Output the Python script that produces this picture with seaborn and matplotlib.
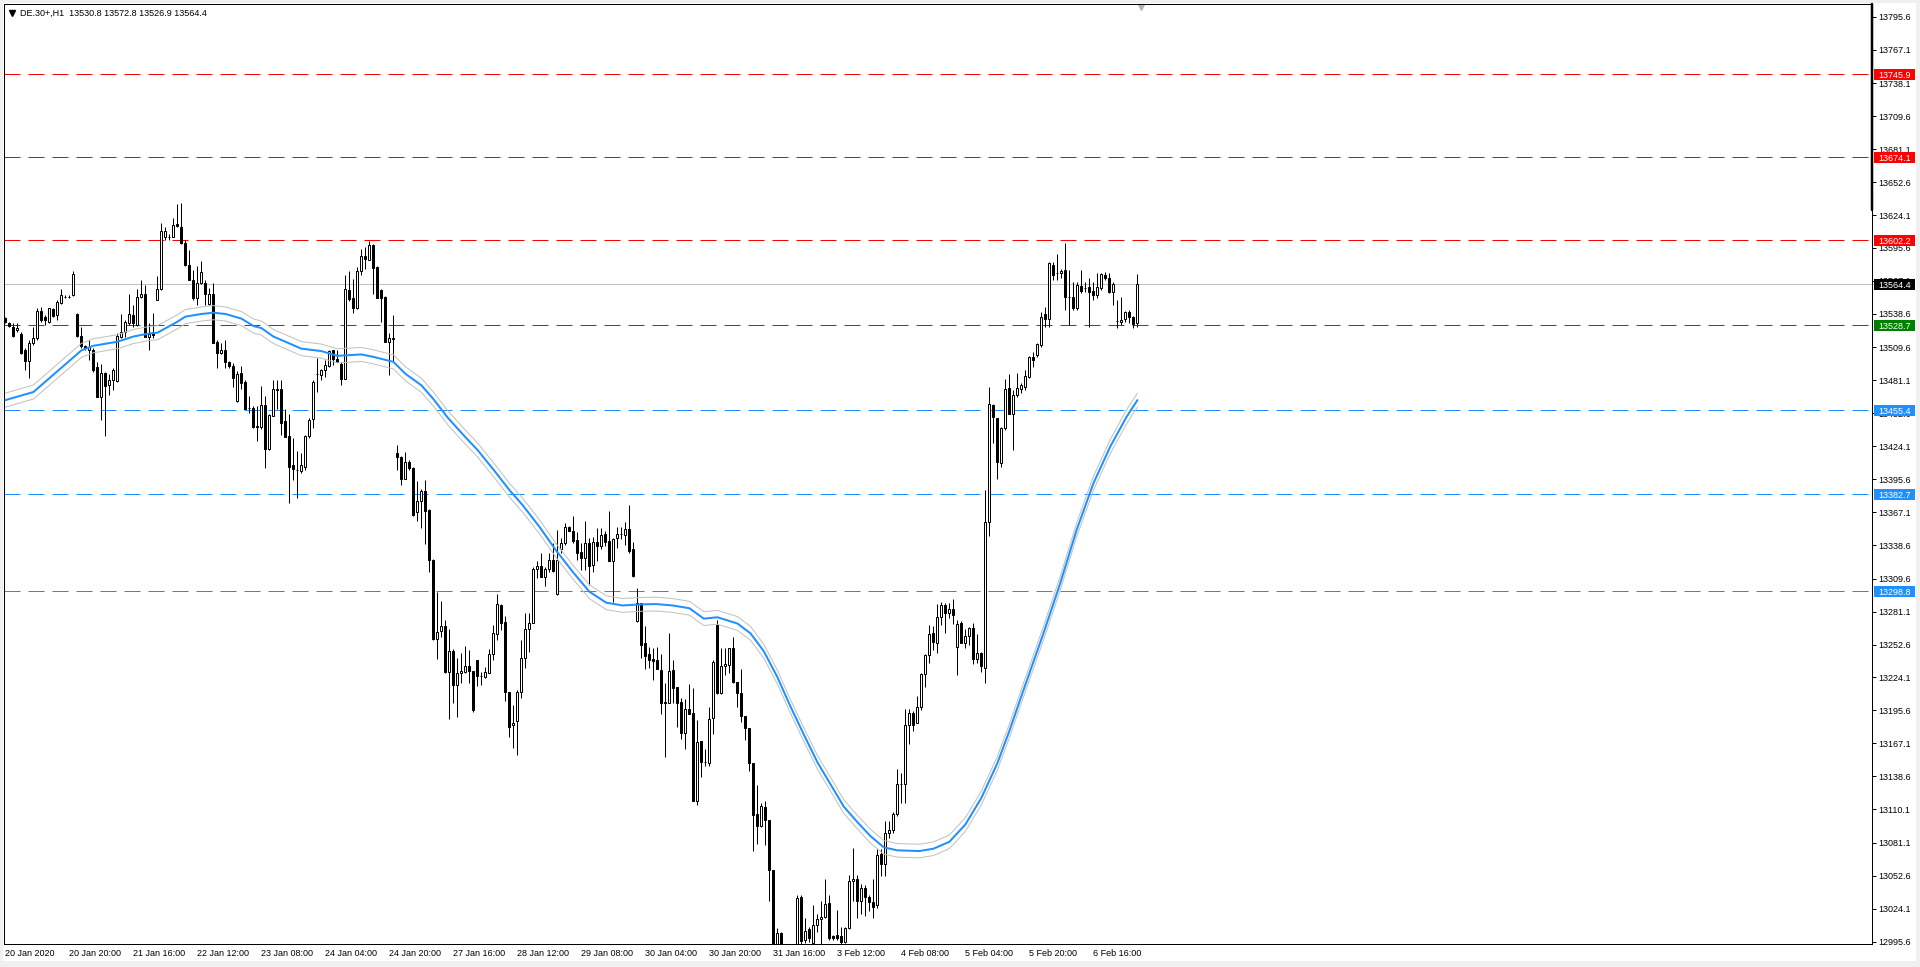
import numpy as np
import pandas as pd
import matplotlib
matplotlib.use("Agg")
from matplotlib import pyplot as plt
from matplotlib.patches import Rectangle
from matplotlib.transforms import blended_transform_factory
import seaborn as sns

# DE.30+ H1 candles (20 Jan - 6 Feb 2020)
title = "DE.30+,H1  13530.8 13572.8 13526.9 13564.4"

o = [
    13534.6, 13530.9, 13527.4, 13524.5, 13521.6, 13507.2, 13498.0, 13513.6, 13517.3, 13541.2,
    13536.0, 13531.7, 13542.4, 13537.5, 13547.6, 13553.3, 13553.6, 13554.8, 13538.4, 13519.3,
    13510.7, 13507.2, 13507.2, 13492.8, 13466.9, 13487.6, 13477.0, 13481.3, 13480.7, 13518.7,
    13523.1, 13530.9, 13537.5, 13528.8, 13552.8, 13555.7, 13518.7, 13523.1, 13551.0, 13559.7,
    13604.7, 13604.7, 13605.2, 13616.2, 13613.3, 13599.5, 13580.7, 13568.3, 13551.9, 13565.5,
    13565.5, 13547.0, 13556.2, 13514.4, 13504.9, 13507.2, 13497.1, 13493.4, 13463.4, 13487.7,
    13479.5, 13457.0, 13457.6, 13441.5, 13440.9, 13459.6, 13421.6, 13450.3, 13473.7, 13473.7,
    13445.9, 13432.7, 13407.9, 13403.5, 13402.9, 13406.4, 13432.7, 13447.4, 13486.8, 13485.9,
    13489.8, 13493.6, 13507.3, 13499.4, 13495.6, 13482.4, 13559.1, 13552.6, 13543.3, 13576.0,
    13588.6, 13585.4, 13597.9, 13578.9, 13559.1, 13553.2, 13514.6, 13517.3, 13418.1, 13415.2,
    13396.2, 13410.2, 13405.0, 13366.9, 13376.6, 13385.4, 13369.0, 13326.0, 13257.3, 13264.6,
    13269.0, 13228.6, 13247.1, 13217.8, 13228.1, 13229.1, 13234.0, 13229.7, 13239.2, 13225.6,
    13224.8, 13228.2, 13244.1, 13261.4, 13286.7, 13271.7, 13211.2, 13182.7, 13186.4, 13211.2,
    13240.6, 13266.0, 13271.5, 13317.6, 13320.8, 13311.2, 13317.6, 13325.7, 13296.2, 13334.9,
    13340.1, 13353.9, 13350.7, 13342.9, 13332.9, 13327.1, 13340.7, 13321.3, 13341.5, 13337.8,
    13348.1, 13342.1, 13325.1, 13344.4, 13348.1, 13347.3, 13352.5, 13334.9, 13273.2, 13288.2,
    13253.6, 13244.4, 13239.8, 13239.2, 13230.5, 13203.0, 13201.7, 13230.5, 13216.1, 13202.5,
    13176.3, 13196.5, 13193.0, 13117.2, 13169.0, 13150.8, 13150.2, 13189.2, 13269.8, 13211.0,
    13234.0, 13234.6, 13250.0, 13220.6, 13211.0, 13190.8, 13180.2, 13150.2, 13106.0, 13095.8,
    13112.4, 13101.2, 13057.4, 12994.0, 13003.0, 12990.0, 12980.0, 12985.0, 12988.0, 13034.0,
    12997.2, 13006.2, 12994.6, 13010.0, 13014.8, 13017.0, 13029.2, 13000.4, 13001.0, 13000.4,
    12995.6, 13007.4, 13047.8, 13050.0, 13030.8, 13042.0, 13034.0, 13030.2, 13027.0, 13071.4,
    13062.8, 13090.0, 13092.0, 13106.0, 13131.6, 13131.6, 13182.8, 13193.0, 13184.4, 13198.8,
    13227.1, 13243.5, 13262.3, 13254.2, 13276.7, 13286.8, 13279.6, 13283.0, 13250.7, 13271.5,
    13254.2, 13260.0, 13266.6, 13239.8, 13245.5, 13232.0, 13358.8, 13459.7, 13448.2, 13409.9,
    13439.6, 13474.2, 13452.0, 13468.2, 13473.3, 13475.6, 13483.7, 13501.5, 13503.0, 13511.6,
    13538.5, 13533.8, 13580.8, 13574.2, 13573.6, 13576.5, 13553.5, 13553.5, 13543.3, 13562.7,
    13560.6, 13561.5, 13558.3, 13554.9, 13560.6, 13572.2, 13569.3, 13557.8, 13532.7, 13531.8,
    13533.8, 13540.5, 13535.6, 13530.8]

h = [
    13535.5, 13531.7, 13530.3, 13530.3, 13523.1, 13508.7, 13515.9, 13527.4, 13543.3, 13544.7,
    13537.5, 13543.8, 13543.3, 13550.5, 13560.0, 13554.8, 13554.5, 13575.5, 13539.5, 13527.4,
    13511.5, 13515.9, 13508.7, 13497.1, 13495.0, 13488.5, 13487.0, 13491.4, 13522.2, 13538.9,
    13533.2, 13556.2, 13546.1, 13559.7, 13567.8, 13563.4, 13530.9, 13539.5, 13571.2, 13617.3,
    13613.9, 13608.1, 13621.1, 13633.5, 13634.6, 13602.4, 13593.7, 13576.4, 13580.0, 13584.5,
    13567.8, 13560.6, 13564.9, 13515.9, 13513.0, 13515.9, 13498.0, 13495.7, 13488.9, 13493.3,
    13481.0, 13467.8, 13459.0, 13459.0, 13476.0, 13467.8, 13451.8, 13481.0, 13481.0, 13481.0,
    13456.1, 13451.7, 13431.3, 13419.6, 13418.1, 13434.2, 13448.8, 13481.0, 13500.0, 13491.2,
    13498.5, 13507.3, 13507.5, 13507.3, 13497.1, 13572.5, 13576.0, 13568.7, 13578.9, 13595.0,
    13596.5, 13601.7, 13599.4, 13580.4, 13559.9, 13554.1, 13521.9, 13538.0, 13425.4, 13415.8,
    13418.7, 13412.3, 13406.4, 13394.1, 13387.4, 13394.7, 13369.9, 13326.5, 13298.2, 13290.1,
    13273.4, 13266.1, 13248.5, 13241.2, 13245.6, 13251.3, 13247.8, 13230.0, 13239.2, 13229.1,
    13233.4, 13248.4, 13269.4, 13296.3, 13287.5, 13277.2, 13211.8, 13200.2, 13213.2, 13256.5,
    13279.5, 13280.1, 13319.9, 13325.1, 13331.4, 13319.9, 13332.0, 13340.1, 13351.6, 13344.4,
    13357.4, 13355.1, 13363.7, 13350.2, 13340.1, 13359.4, 13344.4, 13345.8, 13353.0, 13353.0,
    13351.0, 13368.3, 13344.4, 13353.9, 13354.5, 13358.8, 13373.2, 13341.5, 13301.2, 13288.2,
    13268.6, 13250.7, 13249.3, 13250.7, 13244.4, 13219.0, 13262.8, 13239.2, 13216.1, 13206.0,
    13205.2, 13218.4, 13214.8, 13187.6, 13169.0, 13162.0, 13198.2, 13238.8, 13274.0, 13250.0,
    13250.0, 13250.0, 13259.0, 13220.6, 13231.4, 13190.8, 13180.2, 13150.2, 13131.0, 13115.6,
    13117.2, 13101.2, 13057.4, 13007.4, 13003.6, 12992.0, 12988.0, 12991.0, 13035.6, 13036.2,
    13016.4, 13008.4, 13027.6, 13019.6, 13031.0, 13050.0, 13036.2, 13001.0, 13022.8, 13008.4,
    13008.4, 13053.2, 13076.6, 13053.2, 13045.8, 13044.6, 13036.2, 13050.0, 13075.6, 13075.6,
    13100.2, 13100.0, 13108.0, 13145.0, 13141.2, 13197.2, 13197.2, 13194.9, 13208.4, 13227.7,
    13244.4, 13269.5, 13268.6, 13287.6, 13289.6, 13288.8, 13288.8, 13291.7, 13273.8, 13273.2,
    13265.7, 13267.5, 13270.9, 13261.7, 13246.4, 13386.2, 13475.6, 13460.6, 13448.2, 13441.0,
    13482.2, 13486.6, 13472.7, 13487.1, 13478.5, 13490.0, 13502.1, 13505.9, 13513.7, 13540.5,
    13544.8, 13583.7, 13583.7, 13590.3, 13577.1, 13600.1, 13576.5, 13566.4, 13566.4, 13576.5,
    13566.4, 13569.3, 13566.4, 13573.6, 13574.2, 13575.1, 13574.2, 13566.4, 13550.6, 13553.5,
    13541.3, 13541.9, 13536.7, 13572.8]

l = [
    13530.3, 13527.4, 13518.7, 13523.1, 13504.3, 13489.9, 13482.7, 13511.5, 13516.4, 13531.7,
    13528.8, 13530.9, 13536.0, 13533.7, 13547.0, 13552.0, 13552.5, 13553.9, 13518.7, 13508.7,
    13507.2, 13498.9, 13488.5, 13466.3, 13446.7, 13432.8, 13468.3, 13472.6, 13479.8, 13517.3,
    13518.7, 13528.8, 13527.4, 13527.9, 13551.9, 13518.2, 13507.2, 13517.3, 13550.5, 13559.1,
    13602.4, 13602.4, 13604.7, 13613.9, 13598.9, 13579.9, 13567.8, 13551.0, 13546.1, 13564.3,
    13546.1, 13546.1, 13513.0, 13492.2, 13504.3, 13491.4, 13492.0, 13475.5, 13462.0, 13473.7,
    13456.1, 13453.2, 13440.0, 13428.4, 13438.6, 13404.9, 13421.0, 13450.3, 13456.1, 13434.2,
    13432.0, 13374.8, 13394.7, 13379.5, 13400.6, 13403.5, 13431.3, 13440.0, 13470.8, 13481.0,
    13483.9, 13492.7, 13494.1, 13497.0, 13477.2, 13481.9, 13549.7, 13539.5, 13542.4, 13572.5,
    13577.5, 13584.8, 13555.5, 13552.6, 13531.6, 13514.6, 13485.4, 13497.1, 13403.5, 13390.3,
    13395.6, 13403.5, 13364.0, 13359.6, 13353.2, 13339.8, 13315.2, 13256.5, 13239.7, 13258.8,
    13228.1, 13188.6, 13201.7, 13190.0, 13219.3, 13227.6, 13219.6, 13194.5, 13216.7, 13217.5,
    13224.0, 13227.6, 13239.2, 13256.5, 13265.1, 13204.0, 13172.3, 13162.8, 13157.0, 13206.0,
    13232.0, 13246.4, 13270.9, 13309.8, 13310.7, 13303.2, 13315.6, 13315.6, 13295.4, 13331.4,
    13338.6, 13350.4, 13340.7, 13325.7, 13317.0, 13317.0, 13304.0, 13315.6, 13325.1, 13334.9,
    13337.8, 13324.8, 13289.6, 13335.7, 13343.5, 13338.6, 13332.0, 13310.7, 13272.3, 13240.6,
    13231.4, 13232.0, 13221.9, 13231.4, 13192.5, 13155.6, 13201.7, 13201.7, 13181.5, 13170.5,
    13161.9, 13192.5, 13117.2, 13114.0, 13138.0, 13147.6, 13147.6, 13174.8, 13210.0, 13210.0,
    13226.0, 13227.6, 13219.6, 13198.8, 13186.0, 13170.0, 13143.4, 13074.0, 13079.8, 13094.5,
    13078.8, 13030.8, 12975.0, 12990.0, 12985.0, 12975.0, 12970.0, 12978.0, 12985.0, 12990.0,
    12994.6, 12995.6, 12994.0, 13003.6, 12994.0, 13016.4, 12997.2, 12997.0, 12997.2, 12994.0,
    12994.6, 13006.8, 13030.8, 13016.4, 13019.6, 13018.0, 13022.2, 13016.4, 13025.0, 13052.2,
    13052.2, 13085.0, 13090.0, 13104.0, 13115.6, 13115.6, 13166.8, 13178.0, 13184.4, 13196.0,
    13215.6, 13236.3, 13247.9, 13245.0, 13269.5, 13262.2, 13275.2, 13270.3, 13226.2, 13254.0,
    13249.3, 13252.2, 13235.7, 13236.9, 13229.1, 13219.0, 13346.4, 13426.6, 13395.5, 13406.4,
    13438.1, 13452.0, 13420.8, 13466.9, 13469.8, 13472.7, 13482.8, 13492.3, 13501.5, 13510.2,
    13527.5, 13527.5, 13567.9, 13567.9, 13569.3, 13541.9, 13528.9, 13541.9, 13541.9, 13556.3,
    13557.8, 13526.9, 13550.6, 13552.0, 13559.2, 13567.9, 13556.9, 13546.2, 13526.1, 13528.9,
    13531.8, 13531.0, 13526.1, 13526.9]

c = [
    13531.7, 13528.0, 13519.3, 13526.8, 13504.9, 13498.0, 13513.6, 13517.3, 13541.2, 13533.2,
    13533.7, 13543.3, 13536.6, 13549.0, 13554.8, 13553.6, 13553.3, 13573.5, 13519.3, 13510.7,
    13508.7, 13510.1, 13489.9, 13466.9, 13487.6, 13476.1, 13481.3, 13490.0, 13519.3, 13523.1,
    13531.7, 13538.4, 13530.3, 13552.8, 13556.2, 13518.7, 13521.0, 13520.2, 13559.7, 13609.9,
    13609.9, 13604.7, 13615.3, 13614.5, 13599.5, 13580.7, 13568.3, 13551.9, 13565.5, 13575.0,
    13556.2, 13556.2, 13513.6, 13504.9, 13507.2, 13497.1, 13493.4, 13482.7, 13486.8, 13478.9,
    13456.1, 13457.0, 13440.9, 13441.0, 13459.6, 13421.6, 13450.9, 13473.7, 13473.0, 13444.4,
    13432.2, 13406.4, 13404.1, 13403.5, 13407.9, 13432.7, 13446.8, 13480.1, 13486.8, 13489.8,
    13494.1, 13506.4, 13499.4, 13497.1, 13481.9, 13559.9, 13551.2, 13543.3, 13575.4, 13588.3,
    13586.2, 13597.9, 13578.4, 13552.6, 13552.6, 13514.6, 13517.5, 13517.0, 13415.2, 13396.2,
    13410.2, 13405.0, 13364.9, 13376.6, 13385.4, 13368.4, 13326.0, 13257.3, 13263.7, 13269.0,
    13228.6, 13247.1, 13217.8, 13228.1, 13229.7, 13234.0, 13229.9, 13195.9, 13225.6, 13225.6,
    13228.5, 13244.1, 13262.2, 13287.3, 13271.5, 13211.2, 13180.9, 13185.0, 13211.2, 13240.6,
    13265.7, 13270.9, 13317.9, 13320.8, 13311.2, 13317.6, 13325.7, 13316.4, 13325.7, 13340.7,
    13353.9, 13351.0, 13342.1, 13332.0, 13327.1, 13340.1, 13320.5, 13341.5, 13337.8, 13347.3,
    13341.5, 13324.8, 13343.5, 13348.1, 13348.1, 13352.5, 13333.4, 13311.8, 13288.2, 13252.1,
    13242.9, 13239.2, 13238.3, 13231.4, 13202.3, 13201.7, 13229.7, 13214.7, 13202.3, 13176.3,
    13196.5, 13192.5, 13117.2, 13168.4, 13150.8, 13150.8, 13188.6, 13237.8, 13211.0, 13234.0,
    13235.6, 13249.4, 13220.6, 13211.0, 13190.8, 13180.2, 13150.2, 13105.4, 13095.8, 13113.0,
    13101.2, 13058.0, 12990.0, 13003.0, 12993.0, 12980.0, 12985.0, 12988.0, 13033.0, 12996.0,
    13005.2, 12998.8, 13010.0, 13014.8, 13017.0, 13028.6, 12998.8, 12998.8, 12998.8, 12995.6,
    13007.4, 13047.8, 13050.0, 13030.8, 13042.0, 13034.0, 13030.2, 13025.4, 13070.8, 13062.8,
    13090.0, 13092.0, 13106.0, 13131.6, 13131.6, 13182.8, 13193.0, 13183.0, 13198.8, 13227.1,
    13243.5, 13261.7, 13255.0, 13276.7, 13286.8, 13279.6, 13283.0, 13278.1, 13270.0, 13254.2,
    13260.0, 13266.6, 13239.8, 13245.5, 13234.0, 13358.8, 13460.6, 13449.1, 13410.7, 13439.6,
    13473.3, 13452.0, 13468.4, 13474.2, 13477.0, 13484.8, 13501.5, 13498.7, 13512.5, 13535.6,
    13533.8, 13582.3, 13572.2, 13574.2, 13575.9, 13553.5, 13553.5, 13543.3, 13563.5, 13558.6,
    13560.6, 13557.8, 13554.9, 13561.5, 13573.0, 13569.3, 13557.8, 13564.4, 13532.7, 13533.2,
    13540.5, 13535.6, 13529.8, 13564.4]

# moving average (blue) read at sample bars, envelope deviation in percent
ma_bar = [0, 7, 15, 19, 22, 28, 32, 36, 38, 43, 45, 49, 52, 55, 59, 62, 64, 67, 74, 79,
          83, 89, 92, 97, 100, 104, 107, 110.6, 114.4, 118, 122, 126, 129.3, 133.5, 137.6,
          141.8, 146, 150.2, 154.3, 158.5, 162.7, 166.8, 171, 174.6, 178, 183, 186.3, 189.6,
          193, 196.3, 199.6, 203, 206.3, 209.6, 213, 216.3, 219.6, 223, 228.5, 232, 236, 240,
          244, 248, 251, 254.5, 259.5, 263.7, 267.8, 272, 276.2, 280.3, 283]
ma_val = [13464, 13471, 13495, 13507, 13511, 13514.5, 13519, 13521.7, 13522.3, 13531.8,
          13536.2, 13538.5, 13539.6, 13538.5, 13534.5, 13528.1, 13526.3, 13519, 13508.5, 13506.4,
          13502.3, 13503.5, 13501.4, 13497.1, 13486.8, 13476.8, 13464.9, 13448.8, 13434.2, 13421,
          13404, 13386.2, 13373.2, 13354.5, 13334.3, 13315.6, 13298.3, 13288.8, 13286.4, 13287.3,
          13287.6, 13286.4, 13284, 13275, 13276.2, 13270.8, 13262.2, 13246.8, 13224.4, 13198.8,
          13174.8, 13150.8, 13131.6, 13112.4, 13099, 13086.8, 13077.2, 13074.6, 13074, 13076,
          13082, 13097, 13120, 13150, 13178, 13213, 13262.2, 13305.5, 13351.6, 13392,
          13423.7, 13449.6, 13464]
env_dev = 0.045

x_labels = ["20 Jan 2020", "20 Jan 20:00", "21 Jan 16:00", "22 Jan 12:00", "23 Jan 08:00",
            "24 Jan 04:00", "24 Jan 20:00", "27 Jan 16:00", "28 Jan 12:00", "29 Jan 08:00",
            "30 Jan 04:00", "30 Jan 20:00", "31 Jan 16:00", "3 Feb 12:00", "4 Feb 08:00",
            "5 Feb 04:00", "5 Feb 20:00", "6 Feb 16:00"]
label_every = 16

y_ticks = [13795.6, 13767.1, 13738.1, 13709.6, 13681.1, 13652.6, 13624.1, 13595.6, 13567.1,
           13538.6, 13509.6, 13481.1, 13452.6, 13424.1, 13395.6, 13367.1, 13338.6, 13309.6,
           13281.1, 13252.6, 13224.1, 13195.6, 13167.1, 13138.6, 13110.1, 13081.1, 13052.6,
           13024.1, 12995.6]

red_levels = [13745.9, 13674.1, 13602.2]
green_levels = [13528.7]
blue_levels = [13455.4, 13382.7, 13298.8]
bid = 13564.4

sns.set_style("white")
plt.rcParams["font.family"] = ["Liberation Sans", "DejaVu Sans"]
plt.rcParams["lines.scale_dashes"] = False

W, H = 1920, 967
px = 0.72  # one pixel in points
fs = 6.5
xlo, xhi = -0.35, 466.65
ymin, ymax = 12993.6, 13806.6

fig = plt.figure(figsize=(W / 100, H / 100), dpi=100, facecolor="#f0f0f0")
fig.patches.append(Rectangle((3 / W, 6 / H), 1913 / W, 958 / H, transform=fig.transFigure,
                             facecolor="white", edgecolor="none", zorder=-5))
ax = fig.add_axes([4 / W, 23 / H, 1868 / W, 940 / H])
ax.set_facecolor("white")

# levels
dash = (0, (16 * px, 8 * px))
for v in red_levels:
    ax.axhline(v, color="#ff0000", lw=px, ls=dash, zorder=1)
for v in green_levels:
    ax.axhline(v, color="#008000", lw=px, ls=dash, zorder=1)
for v in blue_levels:
    ax.axhline(v, color="#1e90ff", lw=px, ls=dash, zorder=1)
ax.axhline(bid, color="#c0c0c0", lw=px, zorder=1)

# candles
df = pd.DataFrame({"bar": np.arange(len(c)), "open": o, "high": h, "low": l, "close": c})
up = df["close"] >= df["open"]
ax.vlines(df["bar"], df["low"], df["high"], color="black", lw=px, zorder=3)
ax.bar(df["bar"][up], (df["close"] - df["open"])[up], bottom=df["open"][up], width=0.5,
       facecolor="white", edgecolor="black", lw=px, zorder=4)
ax.bar(df["bar"][~up], (df["open"] - df["close"])[~up], bottom=df["close"][~up], width=0.5,
       facecolor="black", edgecolor="black", lw=px, zorder=4)

# moving average + envelopes
ma = pd.DataFrame({"bar": ma_bar, "ma": ma_val})
ma["upper"] = ma["ma"] * (1 + env_dev / 100)
ma["lower"] = ma["ma"] * (1 - env_dev / 100)
sns.lineplot(data=ma, x="bar", y="upper", color="#c0c0c0", lw=px, ax=ax, zorder=5)
sns.lineplot(data=ma, x="bar", y="lower", color="#c0c0c0", lw=px, ax=ax, zorder=5)
sns.lineplot(data=ma, x="bar", y="ma", color="#1e90ff", lw=2 * px, ax=ax, zorder=5)
ax.set_xlabel("")
ax.set_ylabel("")

# axes
ax.yaxis.tick_right()
ax.set_yticks(y_ticks)
ax.set_yticklabels([f"{v:.1f}" for v in y_ticks])
ax.set_xticks(np.arange(len(x_labels)) * label_every)
ax.set_xticklabels(x_labels, ha="left")
ax.tick_params(axis="y", direction="out", length=4 * px, width=px, pad=2 * px,
               labelsize=fs, colors="black")
ax.tick_params(axis="x", direction="out", length=4 * px, width=px, pad=0.5,
               labelsize=fs, colors="black")
for s in ax.spines.values():
    s.set_color("black")
    s.set_linewidth(px)
ax.axvline(xhi, ymin=(944 - 210) / 940, ymax=1, color="black", lw=2.5 * px,
           clip_on=False, zorder=6)

# price tags on the right scale
tr = blended_transform_factory(ax.transAxes, ax.transData)
half = 5.5 * (ymax - ymin) / 940
tags = [(v, "#ff0000") for v in red_levels] + [(v, "#008000") for v in green_levels] + \
       [(v, "#1e90ff") for v in blue_levels] + [(bid, "black")]
for v, col in tags:
    ax.add_patch(Rectangle((1 + 2 / 1868, v - half), 41 / 1868, 2 * half, transform=tr,
                           facecolor=col, edgecolor="none", clip_on=False, zorder=7))
    ax.text(1 + 6 / 1868, v, f"{v:.1f}", transform=tr, color="white", fontsize=fs,
            ha="left", va="center_baseline", zorder=8, clip_on=False)

# header
ax.plot([7.7 / 1868], [1 - 8.7 / 940], marker="v", ms=3.8, color="black",
        transform=ax.transAxes, clip_on=False)
ax.text(16 / 1868, 1 - 9.3 / 940, title, transform=ax.transAxes, fontsize=fs,
        ha="left", va="center", color="black")
ax.plot([len(c)], [1 - 3 / 940], marker="v", ms=5, color="#b4b4b4",
        transform=blended_transform_factory(ax.transData, ax.transAxes), clip_on=False)

ax.set_xlim(xlo, xhi)
ax.set_ylim(ymin, ymax)

fig.savefig("out.png", dpi=100, facecolor=fig.get_facecolor())
